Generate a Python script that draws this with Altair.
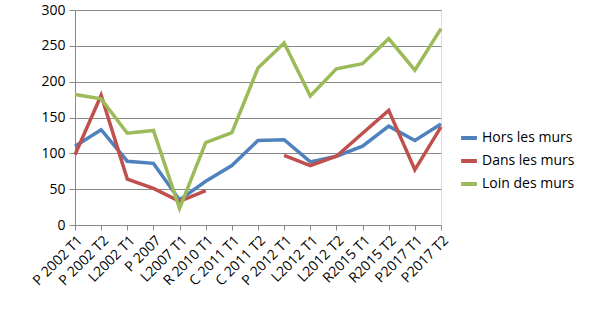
import altair as alt
import pandas as pd

categories = ["P 2002 T1", "P 2002 T2", "L2002 T1", "P 2007", "L2007 T1", "R 2010 T1",
              "C 2011 T1", "C 2011 T2", "P 2012 T1", "L2012 T1", "L2012 T2", "R2015 T1",
              "R2015 T2", "P2017 T1", "P2017 T2"]
series_names = ["Hors les murs", "Dans les murs", "Loin des murs"]
hors = [110, 133, 89, 86, 35, 61, 83, 118, 119, 88, 96, 110, 138, 118, 141]
dans = [98, 181, 64, 51, 33, 48, None, None, 97, 83, 96, 128, 160, 77, 137]
loin = [182, 176, 128, 132, 23, 115, 129, 219, 254, 180, 218, 225, 260, 216, 274]
colors = ["#4F81BD", "#C0504D", "#9BBB59"]

rows = []
for name, vals in zip(series_names, [hors, dans, loin]):
    for i, (c, v) in enumerate(zip(categories, vals)):
        rows.append({"cat": c, "series": name, "value": v, "order": series_names.index(name)})
df = pd.DataFrame(rows)

FONT = "Open Sans"

chart = alt.Chart(df).mark_line(strokeWidth=3.5, invalid="break-paths-show-domains").encode(
    x=alt.X("cat:N", sort=categories, title=None,
            scale=alt.Scale(type="point", padding=0),
            axis=alt.Axis(labelAngle=315, labelAlign="right", labelBaseline="top",
                          labelFontSize=14, labelFont=FONT, labelColor="#000000",
                          domainColor="#888888", tickColor="#888888", tickSize=5,
                          labelPadding=3, grid=False)),
    y=alt.Y("value:Q", title=None,
            scale=alt.Scale(domain=[0, 300], nice=False, zero=True),
            axis=alt.Axis(values=[0, 50, 100, 150, 200, 250, 300], labelFontSize=14,
                          labelFont=FONT, labelColor="#000000", domainColor="#888888",
                          tickColor="#888888", tickSize=6, gridColor="#888888",
                          labelPadding=4)),
    color=alt.Color("series:N", sort=series_names,
                    scale=alt.Scale(domain=series_names, range=colors),
                    legend=alt.Legend(title=None, orient="none", legendX=384, legendY=118,
                                      symbolType="stroke", symbolStrokeWidth=4,
                                      symbolSize=250, labelFontSize=14, labelFont=FONT,
                                      labelColor="#000000", rowPadding=5, labelOffset=3)),
    detail="series:N",
    order="order:Q",
).properties(
    width=366, height=215,
    padding={"left": 75, "top": 10, "right": 159, "bottom": 88},
    autosize=alt.AutoSizeParams(type="none"),
).configure_view(stroke=None).configure(background="white")

chart.save("out.html", embed_options={"renderer": "svg", "actions": False})
